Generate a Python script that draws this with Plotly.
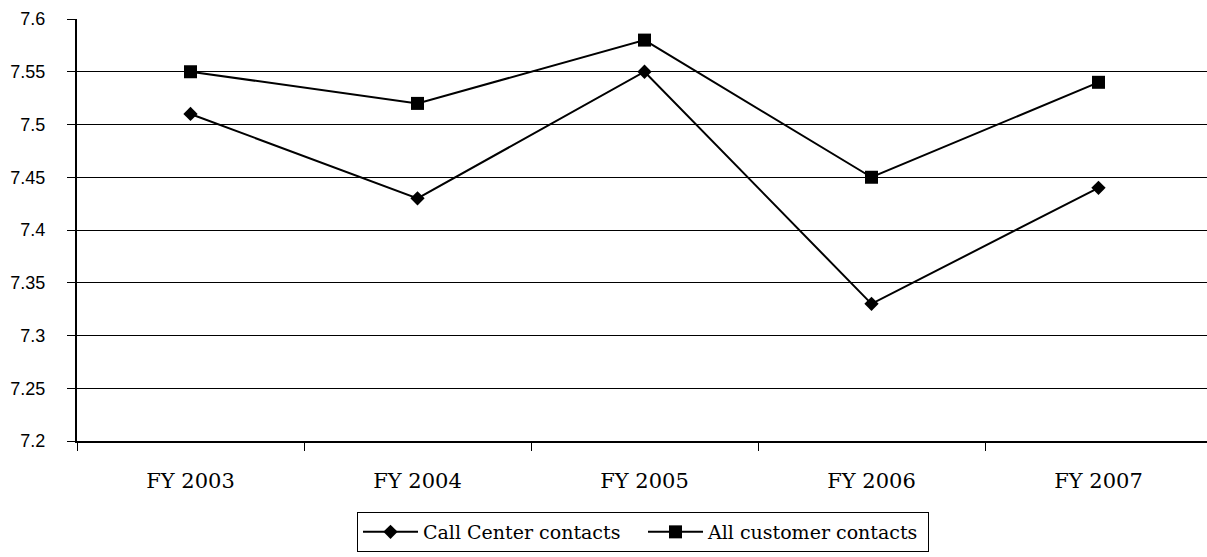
import plotly.graph_objects as go

years = ["FY 2003", "FY 2004", "FY 2005", "FY 2006", "FY 2007"]
call_center = [7.51, 7.43, 7.55, 7.33, 7.44]
all_contacts = [7.55, 7.52, 7.58, 7.45, 7.54]
y_ticks = [7.2, 7.25, 7.3, 7.35, 7.4, 7.45, 7.5, 7.55, 7.6]
y_labels = ["7.2", "7.25", "7.3", "7.35", "7.4", "7.45", "7.5", "7.55", "7.6"]

SERIF = "DejaVu Serif"
W, H = 1207, 557
fig = go.Figure()
fig.add_trace(go.Scatter(
    x=years, y=call_center, name="Call Center contacts", mode="lines+markers",
    line=dict(color="black", width=2),
    marker=dict(symbol="diamond", size=11, color="black"),
))
fig.add_trace(go.Scatter(
    x=years, y=all_contacts, name="All customer contacts", mode="lines+markers",
    line=dict(color="black", width=2),
    marker=dict(symbol="square", size=13, color="black"),
))

fig.update_layout(
    width=W, height=H,
    margin=dict(l=77, r=0, t=19, b=116),
    paper_bgcolor="white", plot_bgcolor="white",
    font=dict(family=SERIF, color="black", size=19),
    legend=dict(
        orientation="h", xref="container", yref="container",
        x=357 / W, xanchor="left", y=1 - 512 / H, yanchor="top",
        bordercolor="black", borderwidth=1, bgcolor="white",
        font=dict(family=SERIF, size=19, color="black"),
        itemwidth=55,
        entrywidth=215, entrywidthmode="pixels",
    ),
    showlegend=True,
)
fig.update_xaxes(
    type="category", range=[-0.5, 4.478],
    showgrid=False, showline=True, linecolor="black", linewidth=2,
    ticks="outside", tickson="boundaries", ticklen=8, tickcolor="black", tickwidth=1,
    tickfont=dict(family=SERIF, size=21),
    ticklabelstandoff=20,
    zeroline=False,
)
fig.update_yaxes(
    range=[7.2, 7.6], tickvals=y_ticks, ticktext=y_labels,
    showgrid=True, gridcolor="black", gridwidth=1,
    showline=True, linecolor="black", linewidth=2,
    ticks="outside", ticklen=8, tickcolor="black", tickwidth=1,
    tickfont=dict(family="Liberation Sans, Arial, sans-serif", size=18),
    ticklabelstandoff=18,
    zeroline=False,
)

fig.write_html("out.html")
